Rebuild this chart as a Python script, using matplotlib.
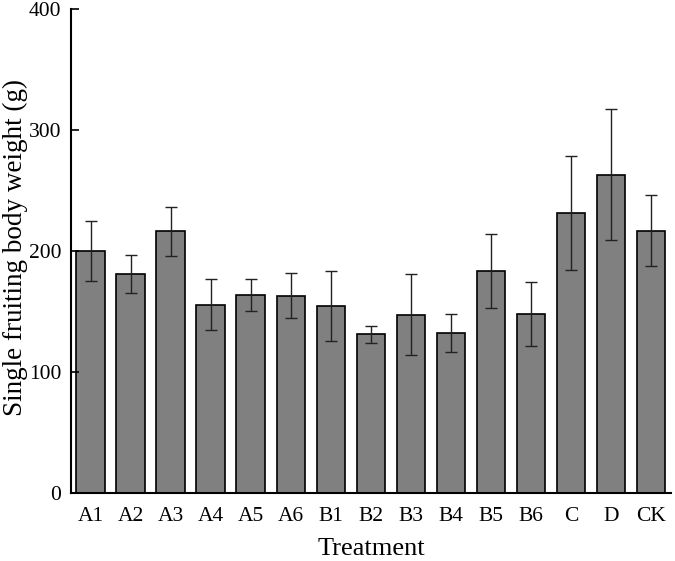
import numpy as np
import matplotlib.pyplot as plt

treatments = ["A1", "A2", "A3", "A4", "A5", "A6", "B1", "B2", "B3", "B4",
              "B5", "B6", "C", "D", "CK"]
weight = [200, 181, 216, 155.5, 163.6, 163, 154.2, 131, 147.4, 132,
          183.5, 148, 231, 263, 216.6]
err = [25, 15.5, 20.5, 21, 13.2, 18.4, 29, 7, 33.4, 15.5,
       30.7, 26.4, 47, 54.3, 29.4]

plt.rcParams['font.family'] = ['Liberation Serif', 'DejaVu Serif']

fig = plt.figure(figsize=(6.75, 5.61), dpi=100)
ax = fig.add_axes([0.105, 0.1212, 0.889, 0.8633])

x = np.arange(len(treatments))
ax.bar(x, weight, width=0.72, color="#808080", edgecolor="black", linewidth=1.2,
       yerr=err, error_kw=dict(ecolor="#222222", elinewidth=1.0, capsize=4, capthick=1.0))

ax.set_xlim(-0.5, len(treatments) - 0.5)
ax.set_ylim(0, 400)
ax.set_yticks([0, 100, 200, 300, 400])
ax.set_xticks(x)
ax.set_xticklabels(treatments)
ax.tick_params(axis="y", direction="in", length=6, width=1.2, labelsize=15.5, pad=7)
ax.tick_params(axis="x", length=0, labelsize=15.5, pad=10)
for s in ["top", "right"]:
    ax.spines[s].set_visible(False)
for s in ["left", "bottom"]:
    ax.spines[s].set_linewidth(1.5)

# y label placed by hand so it sits close to the left edge without clipping
fig.text(15 / 675, 1 - 247 / 561, "Single fruiting body weight (g)", fontsize=19.5,
         rotation=90, ha="center", va="center")
ax.set_xlabel("Treatment", fontsize=19, labelpad=9)

fig.savefig("out.png", dpi=100)
plt.close(fig)
